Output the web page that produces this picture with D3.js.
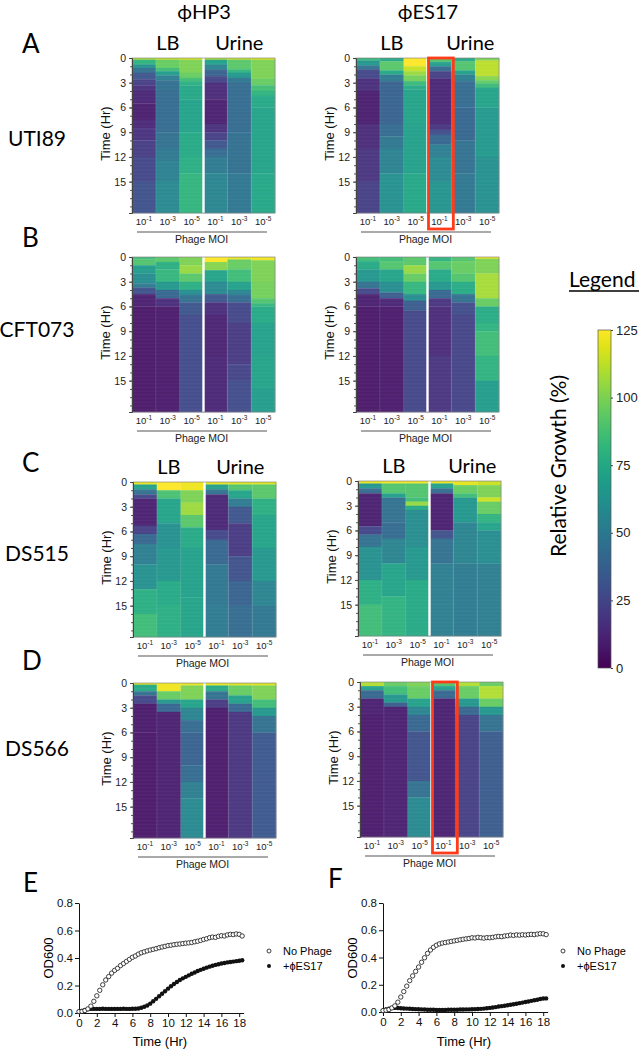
<!DOCTYPE html>
<html>
<head>
<meta charset="utf-8">
<script src="https://cdn.jsdelivr.net/npm/d3@7"></script>
<style>
  body { margin: 0; background: #fff; }
</style>
</head>
<body>
<div id="fig"></div>
<script>
// Phage killing heatmaps (A-D) + growth curves (E, F)

// ---------- data ----------
const PHAGES = ["ϕHP3", "ϕES17"];
const STRAINS = ["UTI89", "CFT073", "DS515", "DS566"];
const PANEL_LETTERS = ["A", "B", "C", "D"];
const MOI_EXP = ["-1", "-3", "-5", "-1", "-3", "-5"];
const TIME_TICKS = [0, 3, 6, 9, 12, 15];
const TIME_END = 18.8;
const LEGEND_TICKS = [0, 25, 50, 75, 100, 125];

// each column: [start hour, relative growth %] steps
const UTI89_HP3 = [
  [[0,110],[0.2,80],[0.8,62],[1.2,45],[1.8,32],[2.6,22],[3.3,16],[4,12],[5.5,9],[7.5,13],[8.5,17],[10,21],[12,25],[15,30]],
  [[0,115],[0.2,95],[1.2,85],[1.6,68],[2.1,52],[2.7,44],[4,42],[9,45],[11,49],[12.5,53],[15,58]],
  [[0,118],[0.2,100],[1.8,95],[2.4,86],[2.8,79],[3.3,74],[5,71],[9,75],[12,78],[14,81]],
  [[0,110],[0.2,70],[0.8,55],[1.4,38],[2.2,24],[3,14],[5,10],[8,16],[9,22],[10,32],[11,42],[12,50],[14,56]],
  [[0,115],[0.2,92],[1.4,80],[1.8,65],[2.4,48],[3,42],[9,44],[14,48]],
  [[0,118],[0.2,100],[2.5,95],[3.3,86],[4,80],[4.6,75],[6,72],[14,74]]
];
const UTI89_ES17 = [
  [[0,82],[0.3,65],[0.9,45],[1.4,25],[2.5,15],[4,9],[8,14],[11,18],[15,22]],
  [[0,75],[0.4,92],[1.5,75],[2,50],[2.8,38],[8,42],[9.5,48],[11,54],[14,62]],
  [[0,125],[1,114],[1.6,106],[2.1,98],[2.8,84],[3.3,76],[3.8,72],[8,70],[14,74]],
  [[0,90],[0.5,68],[1,42],[1.6,22],[2.5,12],[8,18],[8.7,28],[9.3,40],[10.5,52],[12,58],[15,63]],
  [[0,75],[0.4,90],[1.5,70],[2,52],[2.8,42],[6,40],[10,45],[14,48]],
  [[0,100],[0.3,112],[2.2,102],[2.7,94],[3.1,84],[3.6,72],[6,66],[12,62]]
];
const CFT073_HP3 = [
  [[0,85],[0.3,90],[1,68],[2,60],[3.2,50],[3.7,30],[4.5,10],[6,7]],
  [[0,92],[0.6,78],[1.5,82],[3,65],[4,40],[5,15],[6,8]],
  [[0,100],[1,105],[2,92],[3,78],[4,60],[4.6,45],[5.5,32],[7,27]],
  [[0,125],[0.6,102],[1.6,72],[3,58],[4.5,32],[5.5,15],[7,11],[12,12]],
  [[0,120],[0.3,95],[1.5,85],[3,70],[4,55],[4.6,42],[5.5,25],[8,20],[13,24],[15,28]],
  [[0,122],[0.4,100],[3,98],[5,90],[5.6,82],[6,75],[8,70],[12,72],[16,68]]
];
const CFT073_ES17 = [
  [[0,85],[0.5,75],[1.5,65],[3,45],[3.8,25],[4.5,10],[6,7]],
  [[0,85],[0.5,90],[1.5,72],[3,60],[4.3,35],[5,12],[6,8]],
  [[0,92],[1,105],[2,95],[3,82],[4.5,60],[5.3,35],[6.5,25]],
  [[0,80],[0.5,90],[1.5,75],[3,65],[4,40],[5,18],[6,14],[12,18]],
  [[0,90],[0.5,95],[2,90],[3,76],[4.5,45],[5.5,28],[7,24]],
  [[0,122],[0.2,100],[2,108],[5,95],[6,76],[8,80],[9,85],[12,80],[15,68]]
];
const DS515_HP3 = [
  [[0,120],[0.3,70],[0.9,45],[1.5,25],[2,10],[5.3,22],[6.3,40],[7.5,52],[10,62],[13,78],[16,85]],
  [[0,125],[1,88],[2,72],[5,62],[8,65],[12,75],[15,78]],
  [[0,122],[1,100],[2.5,106],[4,92],[5.5,75],[8,70],[14,72]],
  [[0,120],[0.3,70],[0.9,45],[1.5,12],[5.8,25],[7,40],[10,48],[15,50]],
  [[0,118],[0.3,90],[1,72],[2,50],[3,32],[5,20],[9,30],[12,38],[15,42]],
  [[0,118],[0.3,92],[2,78],[4,72],[8,65],[12,55],[15,48]]
];
const DS515_ES17 = [
  [[0,120],[0.3,65],[0.9,42],[1.5,10],[5.5,25],[6.5,45],[8,62],[12,78],[15,85]],
  [[0,122],[0.3,90],[1.5,70],[2,45],[5,42],[7,55],[10,72],[14,80]],
  [[0,122],[0.3,90],[2,85],[2.5,105],[3,75],[3.5,60],[8,65],[12,75]],
  [[0,120],[0.3,70],[0.9,42],[1.5,10],[6,30],[7,45],[10,52],[15,52]],
  [[0,120],[0.5,95],[1.5,85],[2,65],[5,55],[10,50]],
  [[0,115],[0.5,100],[2,115],[2.5,95],[4,80],[5,72],[6,60],[10,52]]
];
const DS566_HP3 = [
  [[0,120],[0.2,75],[1,45],[1.5,25],[2.5,8],[6,7]],
  [[0,122],[1,95],[2,65],[2.5,40],[3.5,10]],
  [[0,120],[0.3,100],[2,72],[3,55],[4.5,42],[6,38],[10,42],[12,52],[14,58]],
  [[0,120],[0.3,75],[1,45],[2,20],[3,8]],
  [[0,118],[0.3,95],[1.5,70],[2.5,40],[3.5,18]],
  [[0,118],[0.3,100],[2,85],[3,65],[4,45],[6,33]]
];
const DS566_ES17 = [
  [[0,110],[0.5,70],[1,40],[2,10],[4,8]],
  [[0,95],[0.5,85],[1.5,65],[2.5,35],[3,10]],
  [[0,100],[0.5,95],[2,70],[3,55],[4,40],[6,30],[12,45],[14,58]],
  [[0,90],[0.5,70],[1,40],[2,10]],
  [[0,110],[0.5,95],[2,65],[3,40],[4,22]],
  [[0,95],[0.5,110],[2,95],[3,65],[4,45],[6,35]]
];

// growth curves, OD600 every 20 min from t = 0
const OD_STEP_HR = 1 / 3;
const E_NO_PHAGE = [0.010,0.012,0.018,0.030,0.050,0.085,0.125,0.165,0.205,0.240,0.265,0.290,0.310,0.325,0.345,0.360,0.375,0.390,0.405,0.415,0.428,0.438,0.445,0.452,0.458,0.463,0.468,0.475,0.480,0.485,0.490,0.493,0.497,0.500,0.502,0.505,0.508,0.510,0.513,0.518,0.522,0.528,0.535,0.540,0.548,0.552,0.550,0.558,0.562,0.560,0.568,0.572,0.570,0.575,0.572,0.560];
const E_PHAGE = [0.010,0.015,0.022,0.028,0.030,0.030,0.030,0.030,0.031,0.030,0.030,0.030,0.030,0.030,0.030,0.031,0.030,0.030,0.031,0.031,0.033,0.038,0.045,0.055,0.068,0.085,0.103,0.122,0.140,0.158,0.177,0.195,0.211,0.226,0.240,0.252,0.263,0.274,0.285,0.295,0.305,0.314,0.322,0.330,0.337,0.344,0.350,0.355,0.360,0.364,0.368,0.371,0.374,0.377,0.380,0.384];
const F_NO_PHAGE = [0.010,0.013,0.018,0.030,0.045,0.072,0.110,0.150,0.190,0.230,0.265,0.298,0.330,0.365,0.398,0.430,0.455,0.475,0.490,0.500,0.506,0.510,0.514,0.518,0.522,0.526,0.530,0.534,0.537,0.540,0.545,0.543,0.548,0.545,0.542,0.546,0.545,0.548,0.552,0.555,0.553,0.558,0.560,0.565,0.562,0.566,0.564,0.567,0.565,0.568,0.570,0.568,0.572,0.575,0.574,0.568];
const F_PHAGE = [0.010,0.018,0.025,0.030,0.030,0.029,0.028,0.026,0.025,0.024,0.022,0.021,0.020,0.019,0.018,0.017,0.016,0.016,0.015,0.015,0.015,0.015,0.016,0.016,0.017,0.017,0.018,0.018,0.019,0.019,0.020,0.021,0.022,0.023,0.025,0.027,0.030,0.033,0.036,0.040,0.043,0.046,0.050,0.053,0.057,0.061,0.065,0.069,0.073,0.077,0.082,0.086,0.090,0.095,0.099,0.100];
const OD_TICKS = [0, 0.2, 0.4, 0.6, 0.8];
const HR_TICKS = [0, 2, 4, 6, 8, 10, 12, 14, 16, 18];

// ---------- layout ----------
const WIDTH = 642, HEIGHT = 1049;
const HM_W = 143, HM_H = 155;
const LABEL_FONT = "Lato, 'Open Sans', sans-serif";
const AXIS_FONT = "'Liberation Sans', Arial, sans-serif";
const RED = "#ff3b1a";

const color = d3.scaleSequential(d3.interpolateViridis).domain([0, 125]);

const svg = d3.select("#fig").append("svg")
  .attr("width", WIDTH)
  .attr("height", HEIGHT);

// heatmap placements
const HEATMAPS = [
  {data: UTI89_HP3, x: 132, y: 58, media: true},
  {data: UTI89_ES17, x: 356, y: 58, media: true, box: true, urineDx: 7},
  {data: CFT073_HP3, x: 132, y: 257},
  {data: CFT073_ES17, x: 356, y: 257},
  {data: DS515_HP3, x: 133, y: 482, media: true},
  {data: DS515_ES17, x: 358, y: 481, media: true, urineDx: 7},
  {data: DS566_HP3, x: 133, y: 683},
  {data: DS566_ES17, x: 360, y: 682, box: true}
];

const xBand = d3.scaleBand().domain(d3.range(6)).range([0, HM_W]);
const yTime = d3.scaleLinear().domain([0, TIME_END]).range([0, HM_H]);

HEATMAPS.forEach((hm) => {
  const g = svg.append("g").attr("transform", `translate(${hm.x},${hm.y})`);

  // cells
  hm.data.forEach((col, ci) => {
    g.selectAll(null)
      .data(col)
      .enter()
      .append("rect")
      .attr("x", xBand(ci))
      .attr("width", xBand.bandwidth() + 0.3)
      .attr("y", (d) => yTime(d[0]))
      .attr("height", (d, i) => yTime(i < col.length - 1 ? col[i + 1][0] : TIME_END) - yTime(d[0]) + 0.3)
      .style("fill", (d) => color(d[1]));
  });

  // faint row stripes like the original plate reads
  g.selectAll(null)
    .data(d3.range(1 / 6, TIME_END, 1 / 6))
    .enter()
    .append("line")
    .attr("x1", 0).attr("x2", HM_W)
    .attr("y1", (d) => yTime(d)).attr("y2", (d) => yTime(d))
    .style("stroke", "#fff").style("stroke-opacity", 0.13).style("stroke-width", 0.6);

  // faint column separators
  g.selectAll(null)
    .data([1, 2, 4, 5])
    .enter()
    .append("line")
    .attr("x1", (d) => xBand(d)).attr("x2", (d) => xBand(d))
    .attr("y1", 0).attr("y2", HM_H)
    .style("stroke", "#fff").style("stroke-opacity", 0.2).style("stroke-width", 0.6);

  // LB / Urine divider
  g.append("line")
    .attr("x1", xBand(3)).attr("x2", xBand(3))
    .attr("y1", 0).attr("y2", HM_H)
    .style("stroke", "#fff").style("stroke-width", 2.4);

  g.append("rect")
    .attr("width", HM_W).attr("height", HM_H)
    .style("fill", "none").style("stroke", "#8a8a8a").style("stroke-width", 0.7);

  // time axis
  const yAxis = g.append("g")
    .call(d3.axisLeft(yTime).tickValues(TIME_TICKS).tickSize(3).tickPadding(3));
  yAxis.selectAll("text").attr("font-size", "10.5px").attr("font-family", AXIS_FONT).attr("fill", "#222");
  yAxis.select(".domain").style("stroke", "#444");
  yAxis.selectAll(".tick line").style("stroke", "#444");
  g.append("g")
    .call(d3.axisLeft(yTime).tickValues(d3.range(1, 19)).tickSize(2).tickFormat(""))
    .call((a) => a.select(".domain").remove())
    .selectAll("line").style("stroke", "#555");

  g.append("text")
    .attr("transform", `translate(-22,${HM_H / 2 - 2}) rotate(-90)`)
    .attr("text-anchor", "middle")
    .attr("font-family", AXIS_FONT)
    .attr("font-size", "13px")
    .attr("fill", "#111")
    .text("Time (Hr)");

  // MOI labels
  const lab = g.selectAll(null)
    .data(MOI_EXP)
    .enter()
    .append("text")
    .attr("x", (d, i) => xBand(i) + xBand.bandwidth() / 2)
    .attr("y", HM_H + 12)
    .attr("text-anchor", "middle")
    .attr("font-family", AXIS_FONT)
    .attr("font-size", "9.5px")
    .attr("fill", "#222");
  lab.append("tspan").text("10");
  lab.append("tspan").attr("dy", -4).attr("font-size", "6.5px").text((d) => d);

  g.append("line")
    .attr("x1", 5).attr("x2", HM_W - 8)
    .attr("y1", HM_H + 19).attr("y2", HM_H + 19)
    .style("stroke", "#555").style("stroke-width", 1);

  g.append("text")
    .attr("x", HM_W / 2 - 2)
    .attr("y", HM_H + 30)
    .attr("text-anchor", "middle")
    .attr("font-family", AXIS_FONT)
    .attr("font-size", "10.5px")
    .attr("fill", "#222")
    .text("Phage MOI");

  if (hm.media) {
    g.append("text")
      .attr("x", xBand(1) + xBand.bandwidth() / 2)
      .attr("y", -8)
      .attr("text-anchor", "middle")
      .attr("font-family", LABEL_FONT).attr("font-size", "20px")
      .text("LB");
    g.append("text")
      .attr("x", xBand(4) + xBand.bandwidth() / 2 + (hm.urineDx || 0))
      .attr("y", -8)
      .attr("text-anchor", "middle")
      .attr("font-family", LABEL_FONT).attr("font-size", "20px")
      .text("Urine");
  }

  if (hm.box) {
    g.append("rect")
      .attr("x", xBand(3) + 1)
      .attr("y", 0)
      .attr("width", xBand.bandwidth() + 1)
      .attr("height", HM_H + 16)
      .style("fill", "none")
      .style("stroke", RED)
      .style("stroke-width", 2.8);
  }
});

// column titles
svg.selectAll(null)
  .data(PHAGES)
  .enter()
  .append("text")
  .attr("x", (d, i) => [204, 428][i])
  .attr("y", 19)
  .attr("text-anchor", "middle")
  .attr("font-family", LABEL_FONT)
  .attr("font-size", "20px")
  .text((d) => d);

// panel letters + strain names
const ROW_LETTER_Y = [53, 247, 472, 670];
const ROW_NAME_Y = [146, 337, 561, 756];
svg.selectAll(null)
  .data(PANEL_LETTERS)
  .enter()
  .append("text")
  .attr("x", 22).attr("y", (d, i) => ROW_LETTER_Y[i])
  .attr("font-family", LABEL_FONT).attr("font-size", "26px")
  .text((d) => d);
svg.selectAll(null)
  .data(STRAINS)
  .enter()
  .append("text")
  .attr("x", 37).attr("y", (d, i) => ROW_NAME_Y[i])
  .attr("text-anchor", "middle")
  .attr("font-family", LABEL_FONT).attr("font-size", "21px")
  .text((d) => d);

// ---------- colour legend ----------
const legTop = 330, legBottom = 668, legX = 598, legW = 13;
const legScale = d3.scaleLinear().domain([0, 125]).range([legBottom, legTop]);

const grad = svg.append("defs").append("linearGradient")
  .attr("id", "viridis")
  .attr("x1", 0).attr("y1", 1).attr("x2", 0).attr("y2", 0);
grad.selectAll("stop")
  .data(d3.range(0, 1.0001, 0.05))
  .enter()
  .append("stop")
  .attr("offset", (d) => d)
  .attr("stop-color", (d) => d3.interpolateViridis(d));

svg.append("rect")
  .attr("x", legX).attr("y", legTop)
  .attr("width", legW).attr("height", legBottom - legTop)
  .style("fill", "url(#viridis)")
  .style("stroke", "#555").style("stroke-width", 0.7);

const legAxis = svg.append("g")
  .attr("transform", `translate(${legX + legW},0)`)
  .call(d3.axisRight(legScale).tickValues(LEGEND_TICKS).tickSize(2).tickPadding(3));
legAxis.select(".domain").remove();
legAxis.selectAll("line").style("stroke", "#444");
legAxis.selectAll("text").attr("font-family", AXIS_FONT).attr("font-size", "13px").attr("fill", "#222");

svg.append("text")
  .attr("x", 569).attr("y", 287)
  .attr("font-family", LABEL_FONT).attr("font-size", "21px")
  .text("Legend");
svg.append("line")
  .attr("x1", 569).attr("x2", 639)
  .attr("y1", 291).attr("y2", 291)
  .style("stroke", "#000").style("stroke-width", 1.4);

svg.append("text")
  .attr("transform", "translate(557,466) rotate(-90)")
  .attr("text-anchor", "middle")
  .attr("dominant-baseline", "central")
  .attr("font-family", LABEL_FONT).attr("font-size", "21px")
  .text("Relative Growth (%)");

// ---------- growth curves ----------
const CURVES = [
  {letter: "E", lx: 23, ly: 892, x0: 79, y0: 1013, noPhage: E_NO_PHAGE, phage: E_PHAGE, legX: 269},
  {letter: "F", lx: 328, ly: 888, x0: 383, y0: 1012, noPhage: F_NO_PHAGE, phage: F_PHAGE, legX: 563}
];

CURVES.forEach((c) => {
  const xs = d3.scaleLinear().domain([0, 18.5]).range([c.x0, c.x0 + 18.5 * 8.9]);
  const ys = d3.scaleLinear().domain([0, 0.8]).range([c.y0, 903]);

  const xa = svg.append("g")
    .attr("transform", `translate(0,${c.y0})`)
    .call(d3.axisBottom(xs).tickValues(HR_TICKS).tickSize(4).tickPadding(2).tickSizeOuter(0));
  const ya = svg.append("g")
    .attr("transform", `translate(${c.x0},0)`)
    .call(d3.axisLeft(ys).tickValues(OD_TICKS).tickFormat(d3.format(".1f")).tickSize(4).tickPadding(2).tickSizeOuter(0));
  [xa, ya].forEach((a) => {
    a.selectAll("text").attr("font-family", AXIS_FONT).attr("font-size", "11.5px").attr("fill", "#111");
    a.selectAll("line, path").style("stroke", "#111").style("stroke-width", 1);
  });

  svg.append("g").selectAll("circle")
    .data(c.phage)
    .enter()
    .append("circle")
    .attr("cx", (d, i) => xs(i * OD_STEP_HR))
    .attr("cy", (d) => ys(d))
    .attr("r", 2.2)
    .style("fill", "#111");

  svg.append("g").selectAll("circle")
    .data(c.noPhage)
    .enter()
    .append("circle")
    .attr("cx", (d, i) => xs(i * OD_STEP_HR))
    .attr("cy", (d) => ys(d))
    .attr("r", 2.2)
    .style("fill", "#fff")
    .style("stroke", "#111")
    .style("stroke-width", 0.8);

  svg.append("text")
    .attr("x", c.lx).attr("y", c.ly)
    .attr("font-family", LABEL_FONT).attr("font-size", "26px")
    .text(c.letter);

  svg.append("text")
    .attr("transform", `translate(${c.x0 - 31},958) rotate(-90)`)
    .attr("text-anchor", "middle")
    .attr("dominant-baseline", "central")
    .attr("font-family", AXIS_FONT).attr("font-size", "13px")
    .text("OD600");
  svg.append("text")
    .attr("x", c.x0 + 81).attr("y", 1046)
    .attr("text-anchor", "middle")
    .attr("font-family", AXIS_FONT).attr("font-size", "13px")
    .text("Time (Hr)");

  // legend
  svg.append("circle")
    .attr("cx", c.legX).attr("cy", 951).attr("r", 2)
    .style("fill", "#fff").style("stroke", "#111").style("stroke-width", 0.8);
  svg.append("circle")
    .attr("cx", c.legX).attr("cy", 966).attr("r", 2)
    .style("fill", "#111");
  svg.append("text")
    .attr("x", c.legX + 14).attr("y", 955)
    .attr("font-family", AXIS_FONT).attr("font-size", "11px")
    .text("No Phage");
  svg.append("text")
    .attr("x", c.legX + 14).attr("y", 970)
    .attr("font-family", AXIS_FONT).attr("font-size", "11px")
    .text("+ϕES17");
});
</script>
</body>
</html>
